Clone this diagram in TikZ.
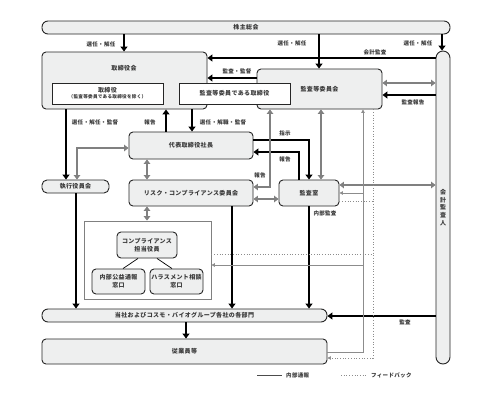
\documentclass[tikz,border=0pt]{standalone}
\usepackage{fontspec}
\setmainfont{Noto Sans CJK JP}[LetterSpace=6]
\usetikzlibrary{arrows.meta}
\definecolor{boxfill}{HTML}{EEEFEF}
\definecolor{txt}{HTML}{3A3A3A}
\definecolor{garr}{HTML}{808080}
\definecolor{thinc}{HTML}{8C8C8C}
\begin{document}
\begin{tikzpicture}[x=1pt,y=-1pt,
  box/.style={draw=black!85, line width=0.9pt, fill=boxfill, rounded corners=4pt, inner sep=0pt, text=txt, font=\fontsize{6}{8}\selectfont\bfseries, align=center},
  wbox/.style={box, fill=white, rounded corners=0pt},
  gbox/.style={draw=garr, line width=0.8pt, fill=white, inner sep=0pt},
  lab/.style={text=txt, font=\fontsize{5.5}{6.5}\selectfont\bfseries, inner sep=0pt},
  blk/.style={draw=black, line width=2.4pt, -{Triangle[length=5pt,width=7pt]}},
  gar/.style={draw=garr, line width=2.2pt, {Triangle[length=4.5pt,width=6.5pt]}-{Triangle[length=4.5pt,width=6.5pt]}},
  thinl/.style={draw=thinc, line width=0.8pt},
  thina/.style={thinl, -{Triangle[length=3.5pt,width=3.5pt]}},
  fb/.style={draw=thinc, line width=0.7pt, dotted},
  fba/.style={fb, -{Triangle[length=3.5pt,width=3.5pt]}}
]
\fill[white] (0,0) rectangle (493,394);
\useasboundingbox (0,0) rectangle (493,394);

% boxes
\node[box, rounded corners=6pt, minimum width=408pt, minimum height=13pt] (kabu) at (246,27.5) {株主総会};
\node[box, minimum width=165pt, minimum height=57pt] (tbk) at (124.5,80.5) {};
\node[lab, font=\fontsize{6}{8}\selectfont\bfseries] (tbkl) at (124,68) {取締役会};
\node[box, minimum width=125pt, minimum height=40pt] (kiin) at (319.5,89) {監査等委員会};
\node[wbox, minimum width=111pt, minimum height=21pt, font=\fontsize{6}{6.5}\selectfont\bfseries] (tori) at (107.5,93.5) {取締役\\[-0.5pt]{\fontsize{4.6}{5.5}\selectfont （監査等委員である取締役を除く）}};
\node[wbox, minimum width=111pt, minimum height=21pt] (kiintori) at (234.5,93.5) {監査等委員である取締役};
\node[box, rounded corners=7pt, minimum width=14pt, minimum height=313pt, font=\fontsize{6}{7.6}\selectfont\bfseries] (kaikei) at (443,207.5) {会\\計\\監\\査\\人};
\node[box, minimum width=124pt, minimum height=27pt] (daihyo) at (191,145.5) {代表取締役社長};
\node[box, rounded corners=5pt, minimum width=67pt, minimum height=13pt] (shikkou) at (75.5,186.5) {執行役員会};
\node[box, minimum width=124pt, minimum height=26pt] (risk) at (191,193) {リスク・コンプライアンス委員会};
\node[box, minimum width=60pt, minimum height=26pt] (kansa) at (309,193) {監査室};
\node[gbox, minimum width=127pt, minimum height=78pt] (gray) at (147.5,260) {};
\node[box, minimum width=60pt, minimum height=26pt] (comp) at (147,245) {コンプライアンス\\担当役員};
\node[box, minimum width=53pt, minimum height=25pt] (naibu) at (118.5,281.5) {内部公益通報\\窓口};
\node[box, minimum width=53pt, minimum height=25pt] (hara) at (176.5,281.5) {ハラスメント相談\\窓口};
\node[box, rounded corners=6pt, minimum width=285pt, minimum height=13pt] (bumon) at (184.5,315.5) {当社およびコスモ・バイオグループ各社の各部門};
\node[box, minimum width=285pt, minimum height=25pt] (juu) at (184.5,351.5) {従業員等};

% black arrows
\draw[blk] (kabu.south -| 124,0) -- (tbk.north -| 124,0);
\node[lab] (l1) at (101,44) {選任・解任};
\draw[blk] (kabu.south -| 319,0) -- (kiin.north -| 319,0);
\node[lab] (l2) at (292,43) {選任・解任};
\draw[blk] (kabu.south -| 442,0) -- (kaikei.north -| 442,0);
\node[lab] (l3) at (418,43) {選任・解任};
\draw[blk] (kaikei.west |- 0,58) -- (tbk.east |- 0,58);
\node[lab] (l4) at (375,52) {会計監査};
\draw[blk] (kiin.west |- 0,78) -- (tbk.east |- 0,78);
\node[lab] (l5) at (237,71) {監査・監督};
\draw[gar] (kiin.east |- 0,83) -- (kaikei.west |- 0,83);
\draw[blk] (kaikei.west |- 0,95) -- (kiin.east |- 0,95);
\node[lab] (l6) at (413,102) {監査報告};
\draw[blk] (tbk.south -| 66,0) -- (shikkou.north -| 66,0);
\node[lab] (l7) at (95,122) {選任・解任・監督};
\draw[blk] (daihyo.north -| 166,0) -- (tbk.south -| 166,0);
\node[lab] (l8) at (150,122) {報告};
\draw[blk] (tbk.south -| 192,0) -- (daihyo.north -| 192,0);
\node[lab] (l9) at (223,122) {選任・解職・監督};
\draw[blk] (daihyo.east |- 0,140) -| (kansa.north -| 309,0);
\node[lab] (l10) at (285,133) {指示};
\draw[blk] (kansa.north -| 299,0) |- (daihyo.east |- 0,152);
\node[lab] (l11) at (285,159) {報告};
\draw[blk] (kansa.south -| 309,0) -- (bumon.north -| 309,0);
\node[lab] (l12) at (325,213) {内部監査};
\draw[blk] (risk.south -| 232,0) -- (bumon.north -| 232,0);
\draw[blk] (shikkou.south -| 76,0) -- (bumon.north -| 76,0);
\draw[blk] (bumon.south -| 186,0) -- (juu.north -| 186,0);
\draw[blk] (kaikei.west |- 0,316) -- (bumon.east |- 0,316);
\node[lab] (l13) at (405,322) {監査};

% gray arrows
\draw[gar] (daihyo.west |- 0,148) -| (shikkou.north -| 77,0);
\draw[gar] (daihyo.south -| 147,0) -- (risk.north -| 147,0);
\draw[gar] (risk.south -| 147,0) -- (gray.north -| 147,0);
\draw[gar] (kiin.south -| 270,0) |- (risk.east |- 0,187);
\node[lab] (l14) at (260,175) {報告};
\draw[gar] (kiin.south -| 321,0) -- (kansa.north -| 321,0);
\draw[gar] (risk.east |- 0,199) -- (kansa.west |- 0,199);
\draw[gar] (kansa.east |- 0,185) -- (kaikei.west |- 0,185);

% compliance lines
\draw[line width=0.7pt] (comp.south -| 138,0) -- (naibu.north -| 123,0);
\draw[line width=0.7pt] (comp.south -| 157,0) -- (hara.north -| 172,0);

% internal reporting (solid thin)
\coordinate (tA) at (363,265);
\coordinate (tB) at (363,193);
\draw[thina] (juu.east |- 0,352) -| (kiin.south -| 363,0);
\draw[thina] (tA) -- (gray.east |- tA);
\draw[thina] (tB) -- (kansa.east |- tB);

% feedback (dotted)
\coordinate (fA) at (373,254);
\coordinate (fB) at (373,201);
\draw[fba] (kiin.south -| 373,0) |- (juu.east |- 0,358);
\draw[fb] (gray.east |- fA) -- (fA);
\draw[fb] (kansa.east |- fB) -- (fB);

% legend
\coordinate (lg1a) at (257,375);
\coordinate (lg1b) at (282,375);
\draw[draw=black!70, line width=0.8pt] (lg1a) -- (lg1b);
\node[lab, anchor=west] (lg1t) at (286,375) {内部通報};
\coordinate (lg2a) at (341,375);
\coordinate (lg2b) at (367,375);
\draw[fb] (lg2a) -- (lg2b);
\node[lab, anchor=west] (lg2t) at (371,375) {フィードバック};
\end{tikzpicture}
\end{document}
